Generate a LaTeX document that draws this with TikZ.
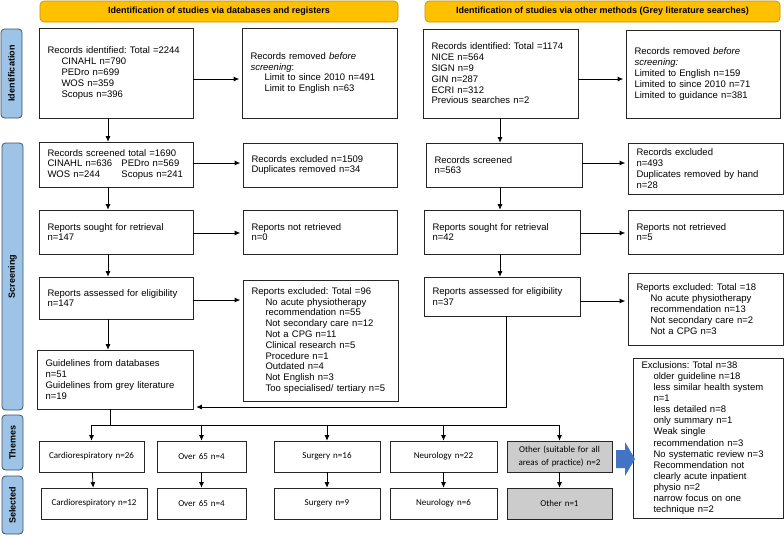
\documentclass[tikz,border=0pt]{standalone}
\usepackage{fontspec}
\setmainfont{Liberation Sans}
\newfontfamily\calib{Carlito}
\usetikzlibrary{arrows.meta}
\frenchspacing
\definecolor{hdr}{HTML}{FFC000}
\definecolor{hdrline}{HTML}{BF9000}
\definecolor{side}{HTML}{9DC3E6}
\definecolor{sideline}{HTML}{41546A}
\definecolor{blk}{HTML}{4472C4}
\definecolor{greybox}{HTML}{CCCCCC}
\tikzset{
 bx/.style={draw=black!85,line width=0.6pt,inner sep=0pt,align=left,font=\fontsize{9.5}{10.8}\selectfont},
 tbx/.style={draw=black!85,line width=0.6pt,inner sep=0pt,align=center,font=\calib\fontsize{9}{12.3}\selectfont},
 hdrbox/.style={draw=hdrline,fill=hdr,rounded corners=4pt,line width=0.6pt,inner sep=0pt,font=\bfseries\fontsize{9}{10}\selectfont},
 sidebox/.style={draw=sideline,fill=side,rounded corners=3.5pt,line width=0.8pt,inner sep=0pt,font=\bfseries\fontsize{9}{10}\selectfont},
 arr/.style={-{Latex[length=5.5pt,width=5pt]},line width=0.8pt},
 harr/.style={arr,shorten >=2.5pt},
 ln/.style={line width=0.8pt},
}
\newcommand\bbox[7][]{%
 \pgfmathsetmacro\bw{#5-#3}\pgfmathsetmacro\bh{#6-#4}\pgfmathsetmacro\tw{#5-#3-17}%
 \node[bx,minimum width=\bw pt,minimum height=\bh pt,text width=\tw pt,#1] (#2) at ({(#3+#5)/2},{(#4+#6)/2}) {#7};}
\newcommand\tbox[7][]{%
 \pgfmathsetmacro\bw{#5-#3}\pgfmathsetmacro\bh{#6-#4}\pgfmathsetmacro\tw{#5-#3-4}%
 \node[tbx,minimum width=\bw pt,minimum height=\bh pt,text width=\tw pt,#1] (#2) at ({(#3+#5)/2},{(#4+#6)/2}) {#7};}
\newcommand\ind{\hspace*{14pt}}
\newcommand\indb{\hspace*{12pt}}
\begin{document}
\begin{tikzpicture}[x=1pt,y=-1pt]
\fill[white] (0,0) rectangle (784,536);
\useasboundingbox (0,0) rectangle (784,536);

% headers
\node[hdrbox,minimum width=358pt,minimum height=21pt] (h1) at (219,11.5) {Identification of studies via databases and registers};
\node[hdrbox,minimum width=355pt,minimum height=21pt] (h2) at (602.5,11.5) {Identification of studies via other methods (Grey literature searches)};

% side labels
\node[sidebox,rotate=90,minimum width=89pt,minimum height=21pt] (s1) at (11.5,73.5) {Identification};
\node[sidebox,rotate=90,minimum width=267pt,minimum height=21pt] (s2) at (12.5,276.5) {Screening};
\node[sidebox,rotate=90,minimum width=55pt,minimum height=21pt] (s3) at (12.5,442.5) {Themes};
\node[sidebox,rotate=90,minimum width=58pt,minimum height=21pt] (s4) at (12.5,505) {Selected};

% left column
\bbox{id1}{39}{28}{193}{118}{Records identified: Total =2244\\\ind CINAHL n=790\\\ind PEDro n=699\\\ind WOS n=359\\\ind Scopus n=396}
\bbox{rem1}{242}{28}{397}{118}{Records removed \textit{before}\\\textit{screening}:\\\ind Limit to since 2010 n=491\\\ind Limit to English n=63}
\bbox{scr1}{39}{142}{193}{187}{Records screened total =1690\\\makebox[74pt][l]{CINAHL n=636}PEDro n=569\\\makebox[74pt][l]{WOS n=244}Scopus n=241}
\bbox{exc1}{243}{143}{397}{187}{Records excluded n=1509\\Duplicates removed n=34}
\bbox{sou1}{39}{210}{193}{254}{Reports sought for retrieval\\n=147}
\bbox{nr1}{243}{210}{397}{254}{Reports not retrieved\\n=0}
\bbox{ass1}{39}{277}{193}{319}{Reports assessed for eligibility\\n=147}
\bbox{rex1}{243}{280}{398}{401}{Reports excluded: Total =96\\\ind No acute physiotherapy\\\ind recommendation n=55\\\ind Not secondary care n=12\\\ind Not a CPG n=11\\\ind Clinical research n=5\\\ind Procedure n=1\\\ind Outdated n=4\\\ind Not English n=3\\\ind Too specialised/ tertiary n=5}
\bbox{guide}{37}{350}{193}{409}{Guidelines from databases\\n=51\\Guidelines from grey literature\\n=19}

% right column
\bbox{id2}{423}{29}{578}{118}{Records identified: Total =1174\\NICE n=564\\SIGN n=9\\GIN n=287\\ECRI n=312\\Previous searches n=2}
\bbox{rem2}{626}{30}{780}{118}{Records removed \textit{before}\\\textit{screening:}\\Limited to English n=159\\Limited to since 2010 n=71\\Limited to guidance n=381\\[6pt]}
\bbox{scr2}{426}{143}{582}{187}{Records screened\\n=563}
\bbox{exc2}{628}{143}{783}{194}{Records excluded\\n=493\\Duplicates removed by hand\\n=28}
\bbox{sou2}{424}{210}{580}{254}{Reports sought for retrieval\\n=42}
\bbox{nr2}{628}{210}{783}{254}{Reports not retrieved\\n=5}
\bbox{ass2}{424}{277}{580}{316}{Reports assessed for eligibility\\n=37}
\bbox{rex2}{628}{273}{783}{345}{Reports excluded: Total =18\\\ind No acute physiotherapy\\\ind recommendation n=13\\\ind Not secondary care n=2\\\ind Not a CPG n=3}
\bbox[font=\fontsize{9.5}{11.1}\selectfont]{excl}{633}{358}{783}{518}{Exclusions: Total n=38\\\indb older guideline n=18\\\indb less similar health system\\\indb n=1\\\indb less detailed n=8\\\indb only summary n=1\\\indb Weak single\\\indb recommendation n=3\\\indb No systematic review n=3\\\indb Recommendation not\\\indb clearly acute inpatient\\\indb physio n=2\\\indb narrow focus on one\\\indb technique n=2}

% themes
\tbox{t1}{39}{441}{144}{472}{Cardiorespiratory n=26}
\tbox{t2}{157}{441}{246}{472}{Over 65 n=4}
\tbox{t3}{274}{441}{380}{472}{Surgery n=16}
\tbox{t4}{390}{441}{497}{472}{Neurology n=22}
\tbox[fill=greybox]{t5}{507}{441}{612}{472}{Other (suitable for all\\areas of practice) n=2}
% selected
\tbox{u1}{41}{488}{147}{519}{Cardiorespiratory n=12}
\tbox{u2}{157}{488}{246}{519}{Over 65 n=4}
\tbox{u3}{274}{488}{380}{519}{Surgery n=9}
\tbox{u4}{390}{488}{497}{519}{Neurology n=6}
\tbox[fill=greybox]{u5}{507}{488}{612}{519}{Other n=1}

% helper coordinates
\coordinate (lx) at (108,0);
\coordinate (rx) at (500,0);
\coordinate (rx2) at (506,0);
\coordinate (gx) at (110,0);
\coordinate (jy) at (0,407);
\coordinate (by) at (0,425);
\coordinate (ya) at (0,79);
\coordinate (yb) at (0,163);
\coordinate (yc) at (0,233);
\coordinate (yd) at (0,300);

% left vertical arrows
\draw[arr] (id1.south -| lx) -- (scr1.north -| lx);
\draw[arr] (scr1.south -| lx) -- (sou1.north -| lx);
\draw[arr] (sou1.south -| lx) -- (ass1.north -| lx);
\draw[arr] (ass1.south -| lx) -- (guide.north -| lx);
% left horizontal arrows
\draw[harr] (id1.east |- ya) -- (rem1.west |- ya);
\draw[harr] (scr1.east |- yb) -- (exc1.west |- yb);
\draw[harr] (sou1.east |- yc) -- (nr1.west |- yc);
\draw[harr] (ass1.east |- yd) -- (rex1.west |- yd);

% right vertical arrows
\draw[arr] (id2.south -| rx) -- (scr2.north -| rx);
\draw[arr] (scr2.south -| rx) -- (sou2.north -| rx);
\draw[arr] (sou2.south -| rx) -- (ass2.north -| rx);
% right horizontal arrows
\draw[harr] (id2.east |- ya) -- (rem2.west |- ya);
\draw[harr] (scr2.east |- yb) -- (exc2.west |- yb);
\draw[harr] (sou2.east |- yc) -- (nr2.west |- yc);
\draw[harr] ([yshift=-1pt]ass2.east |- yd) -- ([yshift=-1pt]rex2.west |- yd);

% join from grey literature to guidelines
\draw[arr,shorten >=3pt] (ass2.south -| rx2) |- (guide.east |- jy);

% guidelines to themes
\draw[ln] (guide.south -| gx) -- (gx |- by);
\draw[ln] (t1.north |- by) -- (t5.north |- by);
\foreach \t in {t1,t2,t3,t4,t5} { \draw[arr] (\t.north |- by) -- (\t.north); }
\draw[arr] (t1) -- (u1);
\draw[arr] (t2) -- (u2);
\draw[arr] (t3) -- (u3);
\draw[arr] (t4) -- (u4);
\draw[arr] (t5) -- (u5);

% blue block arrow
\fill[blk] (616,450) -- (625,450) -- (625,442) -- (635,459) -- (625,476) -- (625,468) -- (616,468) -- cycle;
\end{tikzpicture}
\end{document}
